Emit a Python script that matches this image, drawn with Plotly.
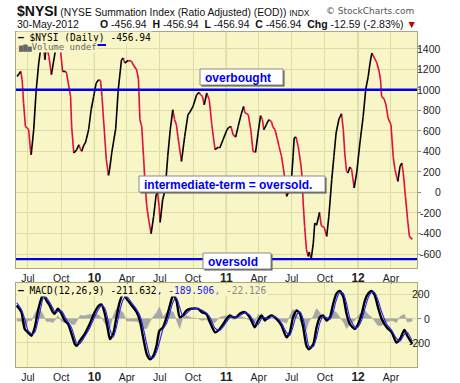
import plotly.graph_objects as go

# ---------------- data ----------------
nysi_dates = [
    "2009-06-01", "2009-06-11", "2009-06-15", "2009-06-19", "2009-06-24", "2009-06-29", "2009-07-03",
    "2009-07-08", "2009-07-10", "2009-07-17", "2009-07-24", "2009-07-31", "2009-08-05", "2009-08-11",
    "2009-08-17", "2009-08-21", "2009-08-28", "2009-09-04", "2009-09-15", "2009-09-22", "2009-09-29",
    "2009-10-05", "2009-10-13", "2009-10-16", "2009-10-27", "2009-10-30", "2009-11-05", "2009-11-13",
    "2009-11-19", "2009-11-24", "2009-11-27", "2009-12-03", "2009-12-07", "2009-12-16", "2009-12-23",
    "2009-12-30", "2010-01-06", "2010-01-13", "2010-01-18", "2010-01-22", "2010-01-27", "2010-02-03",
    "2010-02-09", "2010-02-12", "2010-02-18", "2010-03-01", "2010-03-08", "2010-03-17", "2010-03-22",
    "2010-03-26", "2010-04-05", "2010-04-14", "2010-04-19", "2010-04-28", "2010-05-03", "2010-05-07",
    "2010-05-12", "2010-05-17", "2010-05-21", "2010-05-26", "2010-06-01", "2010-06-07", "2010-06-14",
    "2010-06-21", "2010-06-25", "2010-06-29", "2010-07-02", "2010-07-09", "2010-07-16", "2010-07-23",
    "2010-07-30", "2010-08-06", "2010-08-11", "2010-08-16", "2010-08-20", "2010-08-30", "2010-09-08",
    "2010-09-17", "2010-09-22", "2010-10-01", "2010-10-11", "2010-10-18", "2010-10-22", "2010-10-27",
    "2010-11-01", "2010-11-08", "2010-11-15", "2010-11-22", "2010-12-01", "2010-12-10", "2010-12-14",
    "2010-12-23", "2011-01-03", "2011-01-07", "2011-01-14", "2011-01-20", "2011-01-27", "2011-02-03",
    "2011-02-11", "2011-02-18", "2011-02-22", "2011-03-03", "2011-03-10", "2011-03-16", "2011-03-23",
    "2011-03-30", "2011-04-06", "2011-04-11", "2011-04-15", "2011-04-22", "2011-04-29", "2011-05-06",
    "2011-05-10", "2011-05-16", "2011-05-23", "2011-05-27", "2011-06-03", "2011-06-10", "2011-06-17",
    "2011-06-21", "2011-06-29", "2011-07-05", "2011-07-08", "2011-07-13", "2011-07-19", "2011-07-26",
    "2011-07-29", "2011-08-02", "2011-08-06", "2011-08-11", "2011-08-16", "2011-08-19", "2011-08-24",
    "2011-08-30", "2011-09-03", "2011-09-08", "2011-09-14", "2011-09-16", "2011-09-21", "2011-09-29",
    "2011-10-06", "2011-10-12", "2011-10-20", "2011-10-26", "2011-11-01", "2011-11-09", "2011-11-16",
    "2011-11-21", "2011-11-25", "2011-11-30", "2011-12-04", "2011-12-09", "2011-12-14", "2011-12-21",
    "2011-12-28", "2012-01-06", "2012-01-15", "2012-01-22", "2012-01-29", "2012-02-03", "2012-02-08",
    "2012-02-15", "2012-02-22", "2012-02-28", "2012-03-03", "2012-03-06", "2012-03-13", "2012-03-18",
    "2012-03-24", "2012-04-01", "2012-04-07", "2012-04-12", "2012-04-20", "2012-04-26", "2012-05-01",
    "2012-05-05", "2012-05-11", "2012-05-17", "2012-05-22", "2012-05-30",
]
nysi_values = [
    1129, 1178, 1097, 870, 643, 627, 610,
    416, 367, 610, 1000, 1260, 1390, 1480,
    1292, 1440, 1324, 1146, 1380, 1480, 1390,
    1178, 1178, 1162, 935, 643, 384, 416,
    464, 416, 400, 464, 480, 610, 805,
    935, 1065, 1097, 1090, 935, 676, 318,
    166, 221, 384, 620, 1000, 1292, 1309,
    1260, 1285, 1276, 1240, 1195, 1097, 708,
    643, 351, 92, -136, -282, -402, -234,
    -22, -6, -136, -292, -71, 26, 351,
    610, 805, 708, 660, 545, 302, 545,
    757, 780, 837, 951, 974, 951, 935,
    854, 968, 902, 659, 416, 440, 432,
    513, 610, 630, 643, 562, 539, 643,
    757, 837, 775, 757, 610, 400, 390,
    578, 747, 710, 610, 660, 708, 690,
    640, 610, 513, 448, 351, 189, -39,
    -10, 58, 351, 530, 540, 448, 286,
    189, -103, -331, -558, -623, -580, -649,
    -493, -298, -320, -230, -195, -324, -340,
    -428, -234, 124, 351, 578, 715, 766,
    610, 384, 204, 190, 247, 225, 43,
    189, 481, 740, 1000, 1129, 1260, 1357,
    1310, 1260, 1180, 1097, 935, 910, 854,
    724, 659, 351, 221, 107, 253, 286,
    190, -39, -266, -428, -456.94,
]

macd_dates = [
    "2009-05-31", "2009-06-13", "2009-06-22", "2009-07-01", "2009-07-11", "2009-07-20", "2009-07-29",
    "2009-08-07", "2009-08-12", "2009-08-21", "2009-08-30", "2009-09-08", "2009-09-13", "2009-09-22",
    "2009-10-02", "2009-10-11", "2009-10-20", "2009-10-30", "2009-11-08", "2009-11-13", "2009-11-22",
    "2009-12-05", "2009-12-19", "2010-01-02", "2010-01-14", "2010-01-21", "2010-01-30", "2010-02-08",
    "2010-02-13", "2010-02-22", "2010-03-03", "2010-03-12", "2010-03-22", "2010-03-31", "2010-04-14",
    "2010-04-28", "2010-05-07", "2010-05-16", "2010-05-26", "2010-06-04", "2010-06-13", "2010-06-22",
    "2010-06-30", "2010-07-10", "2010-07-20", "2010-07-29", "2010-08-07", "2010-08-16", "2010-08-25",
    "2010-09-03", "2010-09-13", "2010-09-26", "2010-10-15", "2010-10-25", "2010-11-07", "2010-11-17",
    "2010-12-01", "2010-12-14", "2011-01-02", "2011-01-11", "2011-01-20", "2011-01-29", "2011-02-07",
    "2011-02-21", "2011-03-07", "2011-03-21", "2011-03-30", "2011-04-09", "2011-04-18", "2011-04-27",
    "2011-05-06", "2011-05-20", "2011-06-03", "2011-06-17", "2011-06-26", "2011-07-05", "2011-07-15",
    "2011-07-24", "2011-08-02", "2011-08-11", "2011-08-18", "2011-08-30", "2011-09-08", "2011-09-17",
    "2011-09-26", "2011-10-06", "2011-10-15", "2011-10-24", "2011-11-02", "2011-11-11", "2011-11-21",
    "2011-11-30", "2011-12-09", "2011-12-23", "2012-01-01", "2012-01-11", "2012-01-20", "2012-01-29",
    "2012-02-07", "2012-02-16", "2012-02-25", "2012-03-06", "2012-03-20", "2012-04-03", "2012-04-16",
    "2012-04-26", "2012-05-08", "2012-05-16", "2012-05-30",
]
macd_values = [
    109, 53, -87, -115, -143, -73, 67,
    165, 200, 151, 109, 53, 39, 81,
    39, -17, -45, -129, -213, -227, -185,
    -129, -45, 53, 109, 115, 39, -101,
    -171, -129, 11, 137, 205, 165, 109,
    53, -17, -157, -297, -339, -311, -227,
    -101, -73, 11, 109, 195, 151, 11,
    25, 67, 81, 81, 53, 39, -31,
    -115, -87, -3, 25, 11, 11, 39,
    53, 11, -73, -17, 25, -17, 11,
    25, -3, -59, -157, -115, 11, 67,
    39, -73, -227, -255, -213, -73, 11,
    25, -17, 11, 123, 207, 229, 179,
    39, -45, -87, -45, 39, 151, 207,
    229, 193, 95, -3, -73, -115, -199,
    -171, -95, -143, -211.632,
]
signal_values = [
    130, 75, -3, -98, -126, -115, -17,
    106, 168, 175, 134, 87, 58, 56,
    64, 17, -28, -79, -163, -205, -210,
    -151, -79, 14, 83, 110, 85, -17,
    -90, -154, -73, 61, 159, 185, 131,
    75, 25, -73, -213, -314, -328, -277,
    -198, -87, -39, 50, 139, 171, 95,
    17, 42, 75, 81, 70, 45, 11,
    -81, -98, -28, 8, 19, 11, 22,
    47, 28, -39, -51, 0, 8, -6,
    17, 8, -37, -118, -140, -65, 33,
    56, -6, -135, -231, -233, -157, -39,
    17, 8, -6, 56, 157, 216, 209,
    123, 5, -70, -70, -11, 84, 173,
    216, 215, 154, 56, -45, -98, -165,
    -188, -131, -114, -189.506,
]

quarter_ticks = ["2009-07-01", "2009-10-01", "2010-01-01", "2010-04-01", "2010-07-01", "2010-10-01",
                 "2011-01-01", "2011-04-01", "2011-07-01", "2011-10-01", "2012-01-01", "2012-04-01"]
quarter_labels = ["Jul", "Oct", "10", "Apr", "Jul", "Oct", "11", "Apr", "Jul", "Oct", "12", "Apr"]
year_ticks = ["2010-01-01", "2011-01-01", "2012-01-01"]
main_ticks = [1400, 1200, 1000, 800, 600, 400, 200, 0, -200, -400, -600]
macd_ticks = [200, 0, -200]
overbought_level = 1000
oversold_level = -650

header_name = "$NYSI"
header_desc = "(NYSE Summation Index (Ratio Adjusted) (EOD))"
header_date = "30-May-2012"
last_open, last_high, last_low, last_close = -456.94, -456.94, -456.94, -456.94
chg, chg_pct = -12.59, -2.83

# ---------------- layout helpers ----------------
W, H = 460, 383
L, R, T, B = 16, 43, 32, 16
PW, PH = W - L - R, H - T - B


def px(x):
    return (x - L) / PW


def py(y):
    return (H - B - y) / PH


PLOT_BG = "#f8f6c6"
GRID = "#dcdca4"
YEAR_GRID = "#b9bd82"
BORDER = "#a9a97c"
BLUE = "#0000f0"
RED = "#e0103a"
SANS = "Liberation Sans"
MONO = "DejaVu Sans Mono"


def split_by_direction(xs, ys):
    ux, uy, dx, dy = [], [], [], []
    for i in range(1, len(ys)):
        sx = [xs[i - 1], xs[i], None]
        sy = [ys[i - 1], ys[i], None]
        if ys[i] >= ys[i - 1]:
            ux += sx
            uy += sy
        else:
            dx += sx
            dy += sy
    return ux, uy, dx, dy


fig = go.Figure()

ux, uy, dx, dy = split_by_direction(nysi_dates, nysi_values)
fig.add_trace(go.Scatter(x=dx, y=dy, mode="lines", line=dict(color=RED, width=1.6),
                         xaxis="x", yaxis="y", hoverinfo="skip"))
fig.add_trace(go.Scatter(x=ux, y=uy, mode="lines", line=dict(color="#000000", width=1.6),
                         xaxis="x", yaxis="y", hoverinfo="skip"))

hist_values = [m - s for m, s in zip(macd_values, signal_values)]
fig.add_trace(go.Scatter(x=macd_dates, y=hist_values, mode="lines", fill="tozeroy",
                         fillcolor="#a8a8a8", line=dict(color="#a8a8a8", width=0.5),
                         xaxis="x2", yaxis="y2", hoverinfo="skip"))
fig.add_trace(go.Scatter(x=macd_dates, y=macd_values, mode="lines",
                         line=dict(color="#000000", width=2.4, shape="spline", smoothing=0.6),
                         xaxis="x2", yaxis="y2", hoverinfo="skip"))
fig.add_trace(go.Scatter(x=macd_dates, y=signal_values, mode="lines",
                         line=dict(color="#2020ff", width=1.1, shape="spline", smoothing=0.6),
                         xaxis="x2", yaxis="y2", hoverinfo="skip"))

tick_text = []
for lab in quarter_labels:
    if lab.isdigit():
        tick_text.append("<b><span style='font-size:12px'>%s</span></b>" % lab)
    else:
        tick_text.append(lab)

xrange_ = ["2009-05-29", "2012-06-12"]
xcommon = dict(type="date", range=xrange_, tickvals=quarter_ticks, ticktext=tick_text,
               showgrid=True, gridcolor=GRID, gridwidth=1, ticks="",
               showline=True, linecolor=BORDER, mirror=True, automargin=False,
               tickfont=dict(family=SANS, size=10.5, color="#222"), zeroline=False)
ycommon = dict(side="right", showticklabels=False, showgrid=True, gridcolor=GRID, gridwidth=1,
               ticks="outside", ticklen=3, tickcolor="#888", showline=True, linecolor=BORDER,
               mirror=True, zeroline=False, automargin=False)

fig.update_layout(
    width=W, height=H,
    margin=dict(l=L, r=R, t=T, b=B, pad=0, autoexpand=False),
    paper_bgcolor="#ffffff",
    plot_bgcolor=PLOT_BG,
    showlegend=False,
    xaxis=dict(xcommon, anchor="y"),
    xaxis2=dict(xcommon, anchor="y2", matches="x"),
    yaxis=dict(ycommon, domain=[py(268), 1], range=[-736, 1562], tickvals=main_ticks),
    yaxis2=dict(ycommon, domain=[0, py(283)], range=[-403, 295], tickvals=macd_ticks),
)

shapes = []
for yd in year_ticks:
    for xr, yr in (("x", "y domain"), ("x2", "y2 domain")):
        shapes.append(dict(type="line", xref=xr, yref=yr, x0=yd, x1=yd, y0=0, y1=1,
                           line=dict(color=YEAR_GRID, width=1), layer="below"))
for lvl in (overbought_level, oversold_level):
    shapes.append(dict(type="line", xref="x domain", yref="y", x0=0, x1=1, y0=lvl, y1=lvl,
                       line=dict(color=BLUE, width=2.4), layer="above"))
# user-drawn blue stroke near the legend
shapes.append(dict(type="line", xref="paper", yref="paper", x0=px(72), x1=px(106), y0=py(45), y1=py(45),
                   line=dict(color=BLUE, width=2.2), layer="above"))

boxes = [
    ("overbought", 200, 283, 69, 85, 203),
    ("intermediate-term = oversold.", 139, 325, 176, 192, 142),
    ("oversold", 203, 271, 253, 269, 206),
]
annotations = []
for text, x0, x1, y0, y1, tx in boxes:
    shapes.append(dict(type="rect", xref="paper", yref="paper", x0=px(x0 + 1.5), x1=px(x1 + 1.5),
                       y0=py(y1 + 1.5), y1=py(y0 + 1.5), fillcolor="#555555", line=dict(width=0),
                       layer="above"))
    shapes.append(dict(type="rect", xref="paper", yref="paper", x0=px(x0), x1=px(x1),
                       y0=py(y1), y1=py(y0), fillcolor="#ffffff", line=dict(color="#8a8a8a", width=1),
                       layer="above"))
    annotations.append(dict(xref="paper", yref="paper", x=px(tx), y=py((y0 + y1) / 2 + 0.5),
                            xanchor="left", yanchor="middle", showarrow=False,
                            text="<b>%s</b>" % text, font=dict(family=SANS, size=12, color=BLUE)))

# right-hand y tick labels (right aligned)
for v in main_ticks:
    annotations.append(dict(xref="paper", yref="y", x=px(443), y=v, xanchor="right", yanchor="middle",
                            showarrow=False, text=str(v), font=dict(family=SANS, size=10.5, color="#222")))
for v in macd_ticks:
    annotations.append(dict(xref="paper", yref="y2", x=px(432), y=v, xanchor="right", yanchor="middle",
                            showarrow=False, text=str(v), font=dict(family=SANS, size=10.5, color="#222")))

# header
annotations.append(dict(xref="paper", yref="paper", x=px(15), y=py(10.5), xanchor="left", yanchor="middle",
                        showarrow=False,
                        text="<b><span style='font-size:14px'>%s</span></b> %s <span style='font-size:8.5px'>INDX</span>"
                             % (header_name, header_desc),
                        font=dict(family=SANS, size=10.3, color="#111")))
annotations.append(dict(xref="paper", yref="paper", x=px(416), y=py(10.5), xanchor="right", yanchor="middle",
                        showarrow=False, text="© StockCharts.com",
                        font=dict(family="DejaVu Sans", size=9, color="#555")))
annotations.append(dict(xref="paper", yref="paper", x=px(15), y=py(24), xanchor="left", yanchor="middle",
                        showarrow=False, text=header_date,
                        font=dict(family=SANS, size=10.5, color="#111")))
ohlc = ("<b>O</b> %.2f  <b>H</b> %.2f  <b>L</b> %.2f  <b>C</b> %.2f  <b>Chg</b> %.2f (%.2f%%) "
        "<span style='color:#c00000'>▼</span>" % (last_open, last_high, last_low, last_close, chg, chg_pct))
annotations.append(dict(xref="paper", yref="paper", x=px(98), y=py(24), xanchor="left", yanchor="middle",
                        showarrow=False, text=ohlc,
                        font=dict(family=SANS, size=10.5, color="#111")))

# in-panel legends
annotations.append(dict(xref="paper", yref="paper", x=px(17), y=py(37), xanchor="left", yanchor="middle",
                        showarrow=False, text="<b>—</b> %s (Daily) %.2f" % (header_name, last_close),
                        font=dict(family=MONO, size=9.6, color="#000"), bgcolor=PLOT_BG, borderpad=0))
annotations.append(dict(xref="paper", yref="paper", x=px(17), y=py(47), xanchor="left", yanchor="middle",
                        showarrow=False, text="<span style='font-size:7px'>▆▇▅</span>Volume undef",
                        font=dict(family=MONO, size=9, color="#666"), bgcolor=PLOT_BG, borderpad=0))
annotations.append(dict(xref="paper", yref="paper", x=px(17), y=py(290), xanchor="left", yanchor="middle",
                        showarrow=False,
                        text="<b>—</b> MACD(12,26,9) %.3f<span style='color:#2020ff'>, %.3f</span>"
                             "<span style='color:#888'>, %.3f</span>"
                             % (macd_values[-1], signal_values[-1], hist_values[-1]),
                        font=dict(family=MONO, size=9.6, color="#000"), bgcolor=PLOT_BG, borderpad=0))

fig.update_layout(shapes=shapes, annotations=annotations)
fig.write_html("out.html", config={"displayModeBar": False},
               post_script="document.body.style.margin='0px';document.body.style.overflow='hidden';"
                           "document.documentElement.style.overflow='hidden';")
